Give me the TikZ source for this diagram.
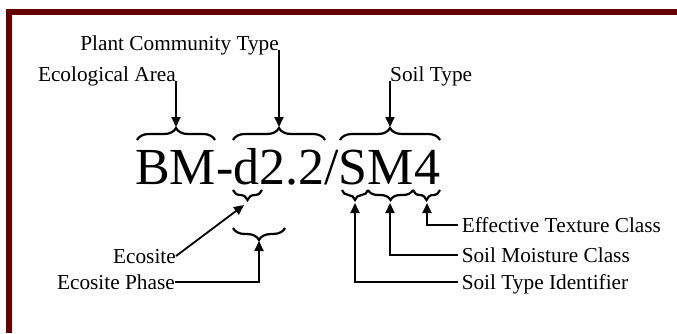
\documentclass[tikz,border=0pt]{standalone}
\usepackage{fontspec}
\setmainfont{Liberation Serif}
\usepackage{tikz}
\usetikzlibrary{arrows.meta,positioning,decorations.pathreplacing}
\usepackage{xcolor}
\definecolor{framered}{RGB}{102, 0, 0}

\begin{document}
\begin{tikzpicture}[
  x=1pt, y=-1pt,
  every node/.style={inner sep=0pt},
  lbl/.style={font=\fontsize{21.3}{24}\selectfont, text height=14pt, text depth=0pt},
  code/.style={font=\fontsize{52}{56}\selectfont},
  brc/.style={decorate, decoration={brace, amplitude=#1}, line width=2.2pt},
  arrow/.style={-{Triangle[length=10pt,width=9pt]}, line width=1.8pt}
]
  \useasboundingbox (0,0) rectangle (677,333);
  % Frame
  \fill[framered] (6,9) rectangle (677,15);
  \fill[framered] (6,9) rectangle (12,333);

  % Code
  \node (code) [code, anchor=base west] at (135,184) {BM-d2.2/SM4};

  % Braces above
  \draw[brc=12pt] (137,140) -- (215,140);
  \draw[brc=12pt] (233,140) -- (325,140);
  \draw[brc=12pt] (340,140) -- (440,140);
  % Braces below
  \draw[brc=10pt] (262,190) -- (233,190);
  \draw[brc=12pt] (285,228) -- (233,228);
  \draw[brc=10pt] (368,190) -- (342,190);
  \draw[brc=10pt] (413,190) -- (368,190);
  \draw[brc=10pt] (440,190) -- (413,190);

  % Tips
  \coordinate (areaTip) at (176,127);
  \coordinate (plantTip) at (279,127);
  \coordinate (soilTip) at (390,127);
  \coordinate (ecoTip) at (244,205);
  \coordinate (phaseTip) at (259,241);
  \coordinate (idTip) at (355,203);
  \coordinate (moistTip) at (390,203);
  \coordinate (textureTip) at (427,203);

  % Labels
  \node (plantcomm) [lbl, anchor=base east] at (279,50) {Plant Community Type};
  \node (ecoarea) [lbl, anchor=base east] at (176,81) {Ecological Area};
  \node (soiltype) [lbl, anchor=base west] at (390,81) {Soil Type};
  \node (ecosite) [lbl, anchor=east] at (176,256) {Ecosite};
  \node (ecophase) [lbl, anchor=east] at (175,282) {Ecosite Phase};
  \node (texture) [lbl, anchor=west] at (458,225) {\,Effective Texture Class};
  \node (moisture) [lbl, anchor=west] at (458,255) {\,Soil Moisture Class};
  \node (soilid) [lbl, anchor=west] at (458,282) {\,Soil Type Identifier};

  % Paths
  \draw [arrow] (ecoarea.base east) -- (areaTip);
  \draw [arrow] (plantcomm.base east) -- (plantTip);
  \draw [arrow] (soiltype.base west) -- (soilTip);
  \draw [arrow] (ecosite.east) -- (ecoTip);
  \draw [arrow] (ecophase.east) -| (phaseTip);
  \draw [arrow] (texture.west) -| (textureTip);
  \draw [arrow] (moisture.west) -| (moistTip);
  \draw [arrow] (soilid.west) -| (idTip);
\end{tikzpicture}
\end{document}
